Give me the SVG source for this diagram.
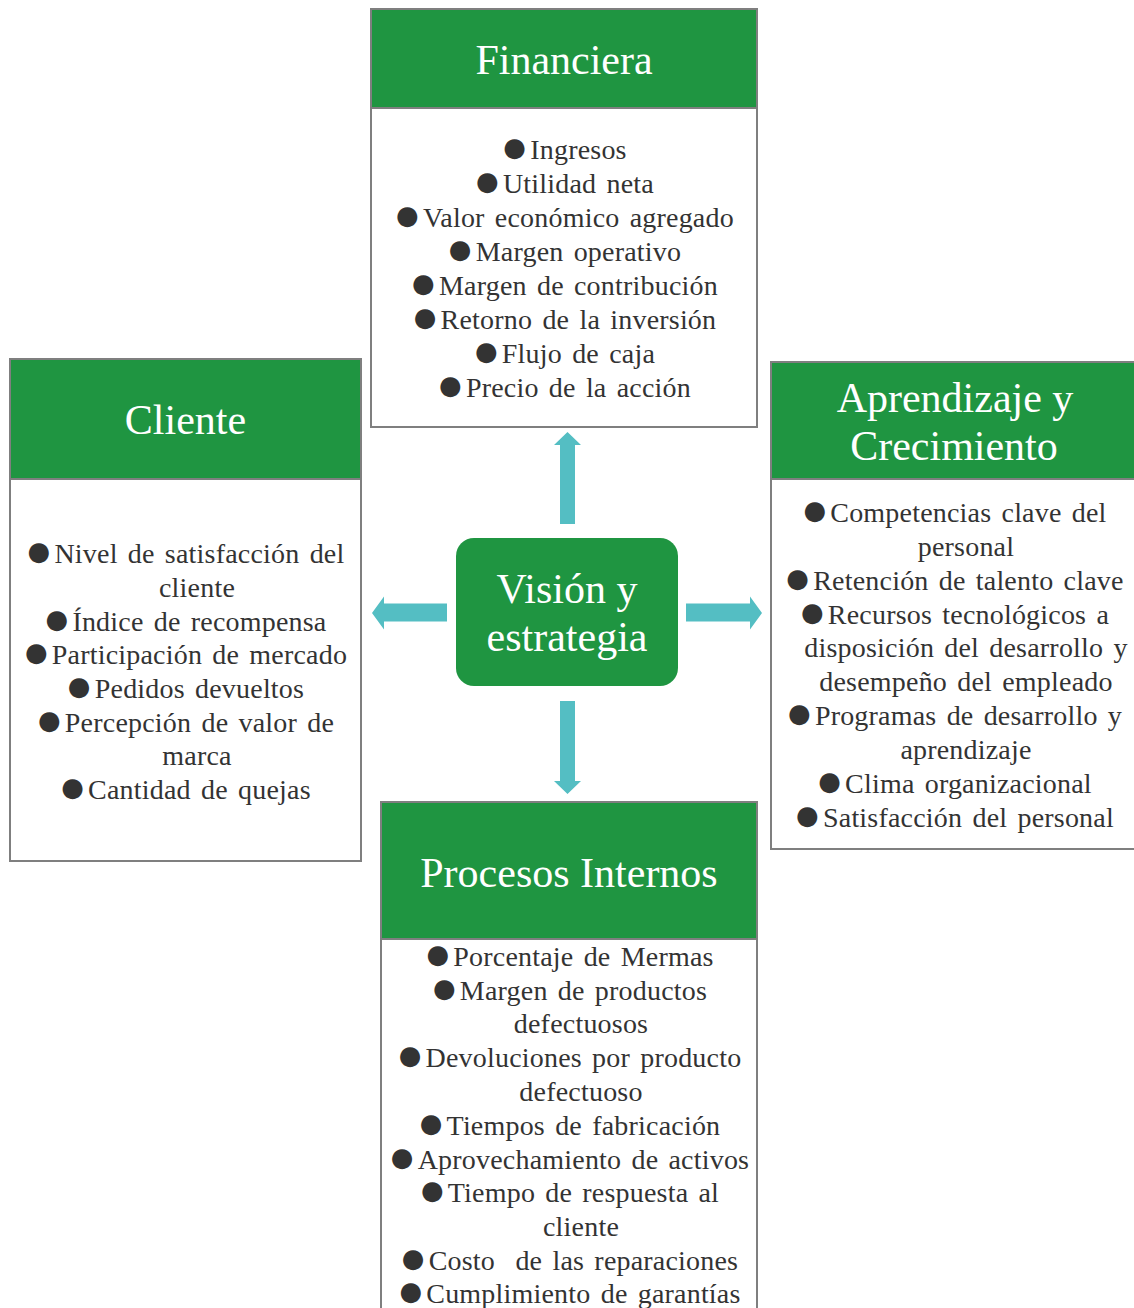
<svg xmlns="http://www.w3.org/2000/svg" width="1134" height="1308" viewBox="0 0 1134 1308">
  <style>
    .box { fill: #ffffff; stroke: #7f7f7f; stroke-width: 2; }
    .head { fill: #1f9541; stroke: #7f7f7f; stroke-width: 2; }
    .title { font-family: "Liberation Serif", "Times New Roman", serif; font-size: 42px; fill: #ffffff; text-anchor: middle; }
    .item { font-family: "Liberation Serif", "Times New Roman", serif; font-size: 28px; fill: #333333; text-anchor: middle; letter-spacing: 0.2px; word-spacing: 3px; white-space: pre; }
    .b { font-family: "DejaVu Sans", sans-serif; font-size: 26px; }
    .arrow { fill: #54bec3; }
  </style>
  <rect width="1134" height="1308" fill="#ffffff"/>

  <!-- connectors: block arrows radiating from the centre -->
  <g id="connectors">
    <polygon class="arrow" points="567.5,432 581,445 575,445 575,524 560,524 560,445 554,445"/>
    <polygon class="arrow" points="372,613 384,596.5 384,603.5 447,603.5 447,621.5 384,621.5 384,629.5"/>
    <polygon class="arrow" points="762,613 750,596.5 750,603.5 686,603.5 686,621.5 750,621.5 750,629.5"/>
    <polygon class="arrow" points="567.5,794 581,781 575,781 575,701 560,701 560,781 554,781"/>
  </g>

  <!-- centre node -->
  <g id="vision">
    <rect x="456" y="538" width="222" height="148" rx="18" ry="18" fill="#1f9541"/>
    <text class="title" x="567" y="603">Visión y</text>
    <text class="title" x="567" y="651">estrategia</text>
  </g>

  <!-- Financiera -->
  <g id="financiera">
    <rect class="box" x="371" y="9" width="386" height="418"/>
    <rect class="head" x="371" y="9" width="386" height="99"/>
    <text class="title" x="564" y="74">Financiera</text>
    <text class="item" x="565" y="159"><tspan class="b" dy="-3">●</tspan><tspan dx="4" dy="3">Ingresos</tspan></text>
    <text class="item" x="565" y="193"><tspan class="b" dy="-3">●</tspan><tspan dx="4" dy="3">Utilidad neta</tspan></text>
    <text class="item" x="565" y="227"><tspan class="b" dy="-3">●</tspan><tspan dx="4" dy="3">Valor económico agregado</tspan></text>
    <text class="item" x="565" y="261"><tspan class="b" dy="-3">●</tspan><tspan dx="4" dy="3">Margen operativo</tspan></text>
    <text class="item" x="565" y="295"><tspan class="b" dy="-3">●</tspan><tspan dx="4" dy="3">Margen de contribución</tspan></text>
    <text class="item" x="565" y="329"><tspan class="b" dy="-3">●</tspan><tspan dx="4" dy="3">Retorno de la inversión</tspan></text>
    <text class="item" x="565" y="363"><tspan class="b" dy="-3">●</tspan><tspan dx="4" dy="3">Flujo de caja</tspan></text>
    <text class="item" x="565" y="397"><tspan class="b" dy="-3">●</tspan><tspan dx="4" dy="3">Precio de la acción</tspan></text>
  </g>

  <!-- Cliente -->
  <g id="cliente">
    <rect class="box" x="10" y="359" width="351" height="502"/>
    <rect class="head" x="10" y="359" width="351" height="120"/>
    <text class="title" x="185.5" y="434">Cliente</text>
    <text class="item" x="186" y="563"><tspan class="b" dy="-3">●</tspan><tspan dx="4" dy="3">Nivel de satisfacción del</tspan></text>
    <text class="item" x="197" y="597">cliente</text>
    <text class="item" x="186" y="631"><tspan class="b" dy="-3">●</tspan><tspan dx="4" dy="3">Índice de recompensa</tspan></text>
    <text class="item" x="186" y="664"><tspan class="b" dy="-3">●</tspan><tspan dx="4" dy="3">Participación de mercado</tspan></text>
    <text class="item" x="186" y="698"><tspan class="b" dy="-3">●</tspan><tspan dx="4" dy="3">Pedidos devueltos</tspan></text>
    <text class="item" x="186" y="732"><tspan class="b" dy="-3">●</tspan><tspan dx="4" dy="3">Percepción de valor de</tspan></text>
    <text class="item" x="197" y="765">marca</text>
    <text class="item" x="186" y="799"><tspan class="b" dy="-3">●</tspan><tspan dx="4" dy="3">Cantidad de quejas</tspan></text>
  </g>

  <!-- Aprendizaje y Crecimiento -->
  <g id="aprendizaje">
    <rect class="box" x="771" y="362" width="370" height="487"/>
    <rect class="head" x="771" y="362" width="370" height="117"/>
    <text class="title" x="955" y="412">Aprendizaje y</text>
    <text class="title" x="954" y="460">Crecimiento</text>
    <text class="item" x="955" y="522"><tspan class="b" dy="-3">●</tspan><tspan dx="4" dy="3">Competencias clave del</tspan></text>
    <text class="item" x="966" y="556">personal</text>
    <text class="item" x="955" y="590"><tspan class="b" dy="-3">●</tspan><tspan dx="4" dy="3">Retención de talento clave</tspan></text>
    <text class="item" x="955" y="624"><tspan class="b" dy="-3">●</tspan><tspan dx="4" dy="3">Recursos tecnológicos a</tspan></text>
    <text class="item" x="966" y="657">disposición del desarrollo y</text>
    <text class="item" x="966" y="691">desempeño del empleado</text>
    <text class="item" x="955" y="725"><tspan class="b" dy="-3">●</tspan><tspan dx="4" dy="3">Programas de desarrollo y</tspan></text>
    <text class="item" x="966" y="759">aprendizaje</text>
    <text class="item" x="955" y="793"><tspan class="b" dy="-3">●</tspan><tspan dx="4" dy="3">Clima organizacional</tspan></text>
    <text class="item" x="955" y="827"><tspan class="b" dy="-3">●</tspan><tspan dx="4" dy="3">Satisfacción del personal</tspan></text>
  </g>

  <!-- Procesos Internos -->
  <g id="procesos">
    <rect class="box" x="381" y="802" width="376" height="520"/>
    <rect class="head" x="381" y="802" width="376" height="137"/>
    <text class="title" x="569" y="887">Procesos Internos</text>
    <text class="item" x="570" y="966"><tspan class="b" dy="-3">●</tspan><tspan dx="4" dy="3">Porcentaje de Mermas</tspan></text>
    <text class="item" x="570" y="1000"><tspan class="b" dy="-3">●</tspan><tspan dx="4" dy="3">Margen de productos</tspan></text>
    <text class="item" x="581" y="1033">defectuosos</text>
    <text class="item" x="570" y="1067"><tspan class="b" dy="-3">●</tspan><tspan dx="4" dy="3">Devoluciones por producto</tspan></text>
    <text class="item" x="581" y="1101">defectuoso</text>
    <text class="item" x="570" y="1135"><tspan class="b" dy="-3">●</tspan><tspan dx="4" dy="3">Tiempos de fabricación</tspan></text>
    <text class="item" x="570" y="1169"><tspan class="b" dy="-3">●</tspan><tspan dx="4" dy="3">Aprovechamiento de activos</tspan></text>
    <text class="item" x="570" y="1202"><tspan class="b" dy="-3">●</tspan><tspan dx="4" dy="3">Tiempo de respuesta al</tspan></text>
    <text class="item" x="581" y="1236">cliente</text>
    <text class="item" x="570" y="1270"><tspan class="b" dy="-3">●</tspan><tspan dx="4" dy="3">Costo  de las reparaciones</tspan></text>
    <text class="item" x="570" y="1303"><tspan class="b" dy="-3">●</tspan><tspan dx="4" dy="3">Cumplimiento de garantías</tspan></text>
  </g>
</svg>
